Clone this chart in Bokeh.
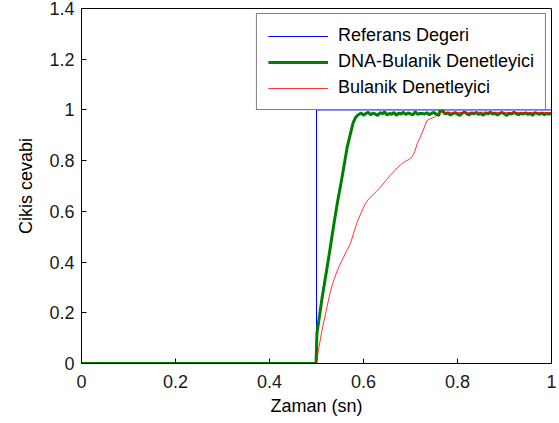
from bokeh.plotting import figure
from bokeh.models import Legend, LegendItem, FixedTicker, Range1d
from bokeh.embed import file_html
from bokeh.resources import INLINE

# ---- data ----
x_ticks = [0, 0.2, 0.4, 0.6, 0.8, 1.0]
x_tick_labels = ["0", "0.2", "0.4", "0.6", "0.8", "1"]
y_ticks = [0, 0.2, 0.4, 0.6, 0.8, 1.0, 1.2, 1.4]
y_tick_labels = ["0", "0.2", "0.4", "0.6", "0.8", "1", "1.2", "1.4"]

ref_t = [0.0, 0.5, 0.5, 1.0]
ref_y = [0.0, 0.0, 1.0, 1.0]

dna_rise_t = [0.0, 0.499, 0.501, 0.505, 0.512, 0.520, 0.527, 0.537, 0.545,
              0.552, 0.558, 0.565, 0.572, 0.578, 0.583, 0.588]
dna_rise_y = [0.0, 0.0, 0.12, 0.17, 0.26, 0.35, 0.43, 0.55, 0.64,
              0.71, 0.774, 0.85, 0.905, 0.95, 0.97, 0.98]
dna_plateau_y = [
    0.982, 0.988, 0.979, 0.986, 0.991, 0.981, 0.987, 0.984, 0.978, 0.989,
    0.985, 0.992, 0.980, 0.986, 0.983, 0.990, 0.979, 0.987, 0.984, 0.991,
    0.982, 0.988, 0.985, 0.980, 0.993, 0.983, 0.986, 0.986, 0.984, 0.989,
    0.981, 0.987, 0.990, 0.983, 0.978, 1.012, 0.991, 0.984, 0.988, 0.980,
    0.985, 0.990, 0.983, 0.979, 0.987, 0.992, 0.984, 0.981, 0.988, 0.985,
    0.990, 0.982, 0.986, 0.979, 0.989, 0.984, 0.991, 0.983, 0.987, 0.980,
    0.986, 0.990, 0.984, 0.978, 0.988, 0.983, 0.991, 0.985, 0.981, 0.987,
    0.984, 0.989, 0.982, 0.986, 0.979, 0.990, 0.985, 0.983, 0.988, 0.981,
    0.986, 0.984, 0.987,
]
dna_plateau_t = [round(0.59 + 0.005 * i, 3) for i in range(len(dna_plateau_y))]

fuzzy_t = [0.0, 0.5, 0.503, 0.509, 0.515, 0.522, 0.530, 0.537, 0.545, 0.554,
           0.563, 0.572, 0.580, 0.588, 0.594, 0.600, 0.604, 0.611, 0.620, 0.628,
           0.636, 0.645, 0.655, 0.665, 0.672, 0.680, 0.689, 0.697, 0.703, 0.709,
           0.714, 0.720, 0.727, 0.735, 0.742, 0.750, 0.757, 0.764, 0.800, 0.850,
           0.900, 0.950, 1.0]
fuzzy_y = [0.0, 0.0, 0.04, 0.104, 0.16, 0.22, 0.288, 0.33, 0.37, 0.406,
           0.44, 0.472, 0.52, 0.565, 0.59, 0.615, 0.63, 0.649, 0.665, 0.68,
           0.695, 0.715, 0.738, 0.758, 0.772, 0.785, 0.797, 0.805, 0.814, 0.835,
           0.866, 0.89, 0.92, 0.958, 0.965, 0.971, 0.98, 0.991, 0.99, 0.991,
           0.99, 0.99, 0.99]

labels = ["Referans Degeri", "DNA-Bulanik Denetleyici", "Bulanik Denetleyici"]

FONT = "Liberation Sans"
FS = "18px"

p = figure(width=557, height=420, output_backend="svg", toolbar_location=None,
           x_range=Range1d(0, 1), y_range=Range1d(0, 1.4),
           min_border_left=81, min_border_right=6, min_border_top=8,
           min_border_bottom=57, x_axis_label="Zaman (sn)",
           y_axis_label="Cikis cevabi")
p.grid.visible = False
p.outline_line_color = "black"
p.outline_line_width = 1
p.background_fill_color = "white"
p.border_fill_color = "white"

r_ref = p.line(ref_t, ref_y, line_color="#0000ff", line_width=1)
r_dna = p.line(dna_rise_t + dna_plateau_t, dna_rise_y + dna_plateau_y,
               line_color="#008000", line_width=3)
r_fuz = p.line(fuzzy_t, fuzzy_y, line_color="#ff0000", line_width=0.8)

def style_axis(ax, ticks, tick_labels):
    ax.ticker = FixedTicker(ticks=ticks)
    ax.major_label_overrides = {t: l for t, l in zip(ticks, tick_labels)}
    ax.major_tick_in = 5
    ax.major_tick_out = 0
    ax.minor_tick_in = 0
    ax.minor_tick_out = 0
    ax.axis_line_color = "black"
    ax.major_tick_line_color = "black"
    ax.major_label_text_font = FONT
    ax.major_label_text_font_size = FS
    ax.major_label_text_color = "#1a1a1a"
    ax.axis_label_text_font = FONT
    ax.axis_label_text_font_size = FS
    ax.axis_label_text_font_style = "normal"
    ax.axis_label_text_color = "black"

style_axis(p.xaxis[0], x_ticks, x_tick_labels)
style_axis(p.yaxis[0], y_ticks, y_tick_labels)
p.xaxis[0].major_label_standoff = 11
p.xaxis[0].axis_label_standoff = 5
p.yaxis[0].major_label_standoff = 7
p.yaxis[0].axis_label_standoff = 10

legend = Legend(items=[LegendItem(label=labels[0], renderers=[r_ref]),
                       LegendItem(label=labels[1], renderers=[r_dna]),
                       LegendItem(label=labels[2], renderers=[r_fuz])],
                location="top_right")
legend.label_text_font = FONT
legend.label_text_font_size = FS
legend.label_text_color = "black"
legend.glyph_width = 60
legend.glyph_height = 20
legend.label_height = 20
legend.label_standoff = 10
legend.padding = 11
legend.spacing = 5
legend.margin = 5
legend.border_line_color = "black"
legend.border_line_width = 1
legend.background_fill_color = "white"
legend.background_fill_alpha = 1
p.add_layout(legend)

open("out.html", "w").write(file_html(p, INLINE))
